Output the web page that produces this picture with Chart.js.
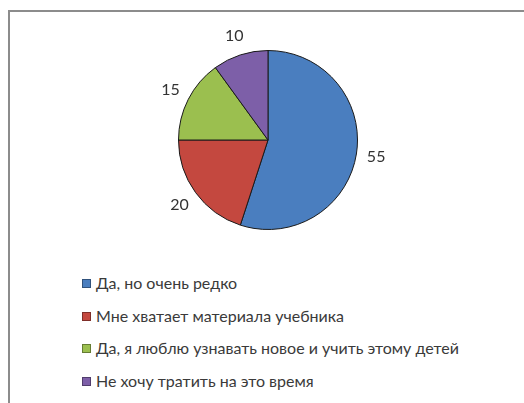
<!DOCTYPE html>
<html>
<head>
<meta charset="utf-8">
<script src="https://cdn.jsdelivr.net/npm/chart.js@4.4.0/dist/chart.umd.min.js"></script>
<style>
  body { margin: 0; background: #fff; width: 524px; height: 403px; overflow: hidden; font-family: Lato, "Open Sans", sans-serif; }
  .frame { position: absolute; left: 8px; top: 10px; width: 530px; height: 410px; border-top: 2px solid #8c8c8c; border-left: 2px solid #8c8c8c; }
  .pie { position: absolute; left: 100px; top: 21px; width: 336px; height: 238px; }
  .legend { position: absolute; left: 82px; top: 273px; list-style: none; margin: 0; padding: 0; }
  .legend li { height: 32.7px; line-height: 20px; font-size: 16px; color: #3a3a3a; display: flex; align-items: flex-start; }
  .legend span.box { width: 9px; height: 9px; margin: 6px 5px 0 0; box-sizing: border-box; border: 1px solid rgba(0,0,0,0.35); }
</style>
</head>
<body>
<div class="frame"></div>
<div class="pie"><canvas id="myPie"></canvas></div>
<ul class="legend" id="legend"></ul>
<script>
// donnees du graphique
const categories = ["Да, но очень редко", "Мне хватает материала учебника", "Да, я люблю узнавать новое и учить этому детей", "Не хочу тратить на это время"];
const valeurs = [55, 20, 15, 10];
const couleurs = ["#4a7ebf", "#c4483f", "#9bbf4f", "#7d5fa8"];

// les etiquettes 55, 20... a l'exterieur du camembert
const outsideLabels = {
  id: 'outsideLabels',
  afterDatasetsDraw(chart) {
    const ctx = chart.ctx;
    const meta = chart.getDatasetMeta(0);
    ctx.save();
    ctx.font = '16px Lato, "Open Sans", sans-serif';
    ctx.fillStyle = '#333';
    ctx.textAlign = 'center';
    ctx.textBaseline = 'middle';
    meta.data.forEach((arc, i) => {
      const p = arc.getProps(['x', 'y', 'startAngle', 'endAngle', 'outerRadius'], true);
      const mid = (p.startAngle + p.endAngle) / 2;
      const d = p.outerRadius + 20;
      ctx.fillText(String(valeurs[i]), p.x + Math.cos(mid) * d, p.y + Math.sin(mid) * d);
    });
    ctx.restore();
  }
};

new Chart(document.getElementById('myPie'), {
  type: 'pie',
  data: {
    labels: categories,
    datasets: [{
      data: valeurs,
      backgroundColor: couleurs,
      borderColor: '#1a1a1a',
      borderWidth: 1
    }]
  },
  options: {
    responsive: true,
    maintainAspectRatio: false,
    animation: false,
    layout: { padding: 29 },
    plugins: {
      legend: { display: false },
      tooltip: { enabled: false }
    }
  },
  plugins: [outsideLabels]
});

// legende en html
const legend = document.getElementById('legend');
categories.forEach((cat, i) => {
  const li = document.createElement('li');
  li.innerHTML = `<span class="box" style="background:${couleurs[i]}"></span>${cat}`;
  legend.appendChild(li);
});
</script>
</body>
</html>
